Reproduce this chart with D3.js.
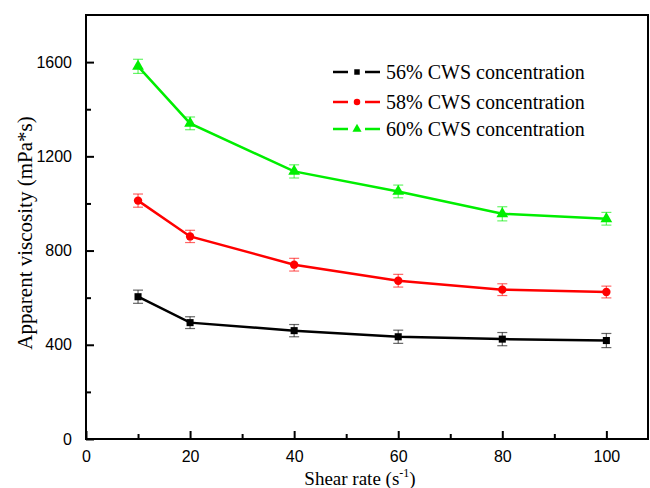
<!DOCTYPE html>
<html>
<head>
<meta charset="utf-8">
<script src="https://cdn.jsdelivr.net/npm/d3@7"></script>
<style>
  body { margin: 0; background: #fff; }
  svg { display: block; }
</style>
</head>
<body>
<div id="chart"></div>
<script>
// data
const shearRates = [10, 20, 40, 60, 80, 100];
const seriesNames = ["56% CWS concentration", "58% CWS concentration", "60% CWS concentration"];
const visc56 = [604, 494, 460, 434, 424, 418];
const visc58 = [1012, 860, 740, 672, 634, 624];
const visc60 = [1582, 1340, 1136, 1051, 956, 935];
const err56 = [28, 25, 26, 28, 28, 30];
const err58 = [28, 26, 27, 27, 25, 25];
const err60 = [30, 27, 28, 27, 30, 27];
const xTicks = [0, 20, 40, 60, 80, 100];
const yTicks = [0, 400, 800, 1200, 1600];

const FRAME_WIDTH = 650;
const FRAME_HEIGHT = 488;
const MARGINS = { left: 86, right: 2, top: 15, bottom: 49 };
const VIS_WIDTH = FRAME_WIDTH - MARGINS.left - MARGINS.right;
const VIS_HEIGHT = FRAME_HEIGHT - MARGINS.top - MARGINS.bottom;

const COLORS = ["#000000", "#ff0000", "#00ee00"];
const SHAPES = [d3.symbolSquare, d3.symbolCircle, d3.symbolTriangle];
const SIZES = [50, 55, 60];

const FRAME = d3.select("#chart")
    .append("svg")
    .attr("width", FRAME_WIDTH)
    .attr("height", FRAME_HEIGHT);

const X_SCALE = d3.scaleLinear().domain([0, 108]).range([0, VIS_WIDTH]);
const Y_SCALE = d3.scaleLinear().domain([0, 1800]).range([VIS_HEIGHT, 0]);

const g = FRAME.append("g")
    .attr("transform", "translate(" + MARGINS.left + "," + MARGINS.top + ")");

// frame box
g.append("rect")
    .attr("x", 0).attr("y", 0)
    .attr("width", VIS_WIDTH).attr("height", VIS_HEIGHT)
    .attr("fill", "none").attr("stroke", "#000").attr("stroke-width", 2);

// x axis, ticks pointing inward
const xAxis = g.append("g")
    .attr("transform", "translate(0," + VIS_HEIGHT + ")")
    .call(d3.axisBottom(X_SCALE).tickValues(xTicks).tickSize(-8).tickPadding(12).tickFormat(d3.format("d")));
g.append("g")
    .attr("transform", "translate(0," + VIS_HEIGHT + ")")
    .call(d3.axisBottom(X_SCALE).tickValues([10, 30, 50, 70, 90]).tickSize(-5).tickFormat(""));

const yAxis = g.append("g")
    .call(d3.axisLeft(Y_SCALE).tickValues(yTicks).tickSize(-8).tickPadding(14).tickFormat(d3.format("d")));
g.append("g")
    .call(d3.axisLeft(Y_SCALE).tickValues([200, 600, 1000, 1400]).tickSize(-5).tickFormat(""));

g.selectAll(".domain").remove();
g.selectAll(".tick line").attr("stroke", "#000").attr("stroke-width", 2);
g.selectAll(".tick text")
    .attr("font-family", "Liberation Sans, Arial, sans-serif")
    .attr("font-size", "16px")
    .attr("fill", "#000");

// series
const allSeries = [visc56, visc58, visc60];
const allErr = [err56, err58, err60];

const line = d3.line()
    .x((d, i) => X_SCALE(shearRates[i]))
    .y(d => Y_SCALE(d));

allSeries.forEach((vals, s) => {
    const sg = g.append("g");
    sg.append("path")
        .datum(vals)
        .attr("d", line)
        .attr("fill", "none")
        .attr("stroke", COLORS[s])
        .attr("stroke-width", 2.5);

    // error bars
    const eb = sg.selectAll(".err")
        .data(vals)
        .enter()
        .append("g")
        .attr("stroke", COLORS[s])
        .attr("stroke-opacity", 0.6)
        .attr("stroke-width", 1.2);
    eb.append("line")
        .attr("x1", (d, i) => X_SCALE(shearRates[i]))
        .attr("x2", (d, i) => X_SCALE(shearRates[i]))
        .attr("y1", (d, i) => Y_SCALE(d - allErr[s][i]))
        .attr("y2", (d, i) => Y_SCALE(d + allErr[s][i]));
    [-1, 1].forEach(sign => {
        eb.append("line")
            .attr("x1", (d, i) => X_SCALE(shearRates[i]) - 5)
            .attr("x2", (d, i) => X_SCALE(shearRates[i]) + 5)
            .attr("y1", (d, i) => Y_SCALE(d + sign * allErr[s][i]))
            .attr("y2", (d, i) => Y_SCALE(d + sign * allErr[s][i]));
    });

    sg.selectAll(".pt")
        .data(vals)
        .enter()
        .append("path")
        .attr("d", d3.symbol().type(SHAPES[s]).size(SIZES[s]))
        .attr("transform", (d, i) => "translate(" + X_SCALE(shearRates[i]) + "," + Y_SCALE(d) + ")")
        .attr("fill", COLORS[s]);
});

// legend
const legendY = [72, 102, 129];
seriesNames.forEach((name, s) => {
    const lg = FRAME.append("g").attr("transform", "translate(333," + legendY[s] + ")");
    lg.append("line").attr("x1", 0).attr("x2", 15).attr("y1", 0).attr("y2", 0)
        .attr("stroke", COLORS[s]).attr("stroke-width", 2.5);
    lg.append("line").attr("x1", 32).attr("x2", 47).attr("y1", 0).attr("y2", 0)
        .attr("stroke", COLORS[s]).attr("stroke-width", 2.5);
    lg.append("path")
        .attr("d", d3.symbol().type(SHAPES[s]).size(SIZES[s] * 0.6))
        .attr("transform", "translate(24,0)")
        .attr("fill", COLORS[s]);
    lg.append("text")
        .attr("x", 53).attr("y", 7)
        .attr("font-family", "Liberation Serif, Times New Roman, serif")
        .attr("font-size", "20px")
        .attr("fill", "#000")
        .text(name);
});

// axis titles
const xt = FRAME.append("text")
    .attr("x", 360).attr("y", 485)
    .attr("text-anchor", "middle")
    .attr("font-family", "Liberation Serif, Times New Roman, serif")
    .attr("font-size", "19px");
xt.append("tspan").text("Shear rate (s");
xt.append("tspan").attr("font-size", "12px").attr("dy", "-8").text("-1");
xt.append("tspan").attr("dy", "8").text(")");

FRAME.append("text")
    .attr("transform", "translate(32,233) rotate(-90)")
    .attr("text-anchor", "middle")
    .attr("font-family", "Liberation Serif, Times New Roman, serif")
    .attr("font-size", "21px")
    .text("Apparent viscosity (mPa*s)");
</script>
</body>
</html>
